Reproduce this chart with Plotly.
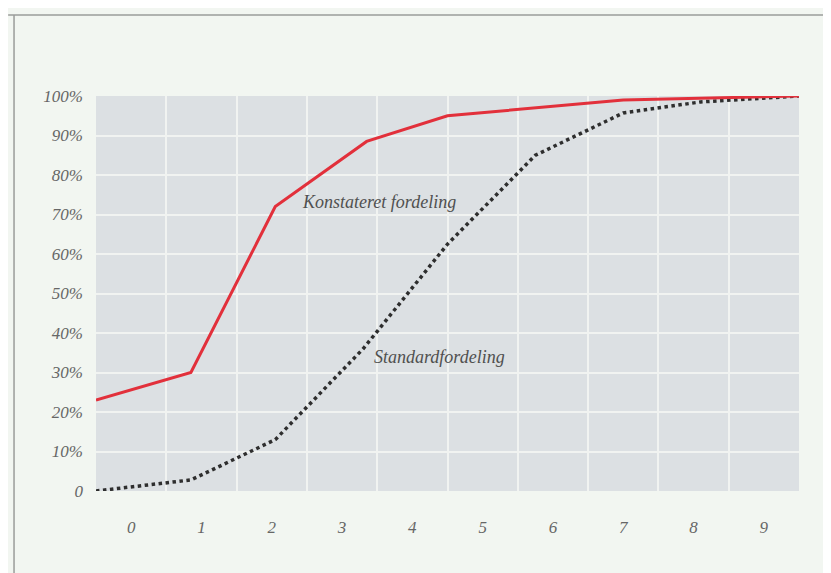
import plotly.graph_objects as go

# ─── PALETTE ─────────────────────────────────────────────────
PAGE   = "#f2f6f1"
PLOT   = "#dce0e3"
GRID   = "#f1f3f1"
RED    = "#e2303b"
DOTS   = "#2e2e2e"
LABEL  = "#666666"
FRAME  = "#9a9c9a"
SERIF  = "Liberation Serif, Times New Roman, serif"

# ─── DATA ────────────────────────────────────────────────────
obs_x = [0, 1.35, 2.55, 3.85, 5.0, 6.2, 7.5, 10]
obs_y = [23, 30, 72, 88.5, 95, 97, 99, 100]

std_x = [0, 1.35, 2.55, 3.8, 5.0, 6.25, 7.5, 8.6, 10]
std_y = [0, 2.8, 13, 36, 62.5, 85, 95.7, 98.5, 100]

x_tick_pos = [0.5, 1.5, 2.5, 3.5, 4.5, 5.5, 6.5, 7.5, 8.5, 9.5]
x_tick_text = ["0", "1", "2", "3", "4", "5", "6", "7", "8", "9"]
y_tick_pos = [0, 10, 20, 30, 40, 50, 60, 70, 80, 90, 100]
y_tick_text = ["0", "10%", "20%", "30%", "40%", "50%", "60%", "70%", "80%", "90%", "100%"]

label_font = dict(family=SERIF, size=17, color=LABEL, style="italic")
note_font = dict(family=SERIF, size=18, color="#505050", style="italic")

fig = go.Figure()

fig.add_trace(go.Scatter(
    x=std_x, y=std_y, mode="lines",
    line=dict(color=DOTS, width=3.5, dash="dot"),
    showlegend=False, hoverinfo="skip",
))
fig.add_trace(go.Scatter(
    x=obs_x, y=obs_y, mode="lines",
    line=dict(color=RED, width=3),
    showlegend=False, hoverinfo="skip",
))

fig.add_annotation(x=2.9, y=73.2, text="Konstateret fordeling", showarrow=False,
                   xanchor="left", yanchor="middle", font=note_font)
fig.add_annotation(x=3.93, y=34, text="Standardfordeling", showarrow=False,
                   xanchor="left", yanchor="middle", font=note_font)

# thin page frame (left + top edges of the scanned box)
fig.add_shape(type="line", xref="paper", yref="paper",
              x0=-0.1166, x1=-0.1166, y0=1.205, y1=-0.23,
              line=dict(color=FRAME, width=1.5))
fig.add_shape(type="line", xref="paper", yref="paper",
              x0=-0.125, x1=1.05, y0=1.205, y1=1.205,
              line=dict(color=FRAME, width=1.5))

# page body has an 8px offset, so the figure is 8px smaller
fig.update_layout(
    width=823, height=565,
    paper_bgcolor=PAGE,
    plot_bgcolor=PLOT,
    margin=dict(l=88, r=32, t=88, b=82),
    xaxis=dict(
        range=[0, 10], tickvals=x_tick_pos, ticktext=x_tick_text,
        showgrid=False, zeroline=False, showline=False, ticks="",
        tickfont=label_font, ticklabelstandoff=24,
        minor=dict(tick0=0, dtick=1, showgrid=True, gridcolor=GRID, gridwidth=2),
        fixedrange=True,
    ),
    yaxis=dict(
        range=[0, 100], tickvals=y_tick_pos, ticktext=y_tick_text,
        showgrid=True, gridcolor=GRID, gridwidth=2,
        zeroline=False, showline=False, ticks="",
        tickfont=label_font, ticklabelstandoff=12,
        fixedrange=True,
    ),
    showlegend=False,
)

fig.write_html("out.html")
